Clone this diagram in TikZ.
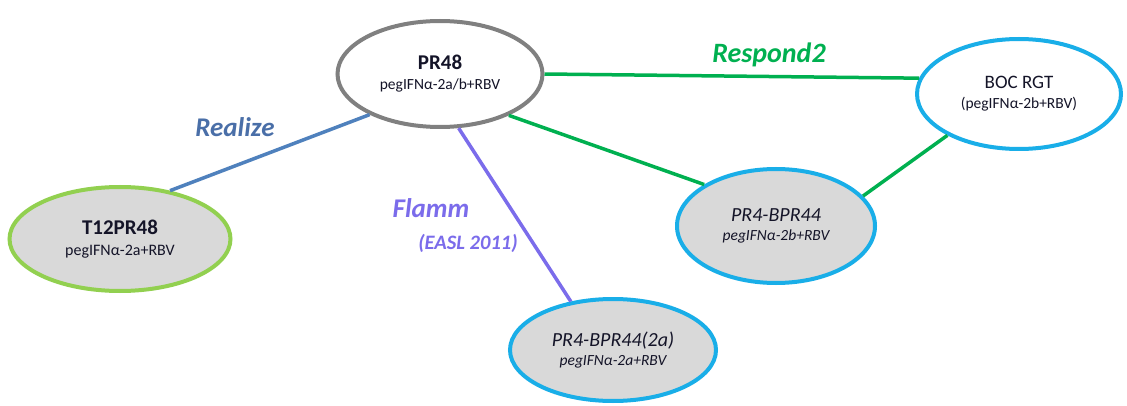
\documentclass[tikz,border=0pt]{standalone}
\usepackage{fontspec}
\setmainfont{Carlito}
\usetikzlibrary{shapes.geometric}
\definecolor{ggray}{HTML}{808080}
\definecolor{sky}{HTML}{19AEE8}
\definecolor{lgreen}{HTML}{92D050}
\definecolor{lfill}{HTML}{D9D9D9}
\definecolor{dgreen}{HTML}{00B050}
\definecolor{rblue}{HTML}{4F81BD}
\definecolor{rtext}{HTML}{4A6FA8}
\definecolor{purp}{HTML}{7B6CEB}
\definecolor{ink}{HTML}{141428}
\tikzset{
  oval/.style={ellipse, line width=4pt, inner sep=0pt, text=ink, align=center,
    font=\fontsize{15.5}{20}\selectfont},
  conn/.style={line width=3.5pt},
  lab/.style={font=\fontsize{27}{30}\selectfont\bfseries\itshape, inner sep=0pt}
}
\begin{document}
\begin{tikzpicture}[x=1pt,y=-1pt]
\useasboundingbox[fill=white] (0,0) rectangle (1127,406);
\node[oval, draw=ggray, fill=white, minimum width=205pt, minimum height=106pt] (pr48) at (440,74)
  {{\fontsize{21}{20}\selectfont\bfseries PR48}\\pegIFNα-2a/b+RBV};
\node[oval, draw=sky, fill=white, minimum width=204pt, minimum height=110pt] (boc) at (1019,94)
  {{\fontsize{19}{20}\selectfont BOC RGT}\\(pegIFNα-2b+RBV)};
\node[oval, draw=lgreen, fill=lfill, minimum width=221pt, minimum height=104pt, font=\fontsize{16}{21}\selectfont] (t12) at (120,239)
  {{\fontsize{21}{21}\selectfont\bfseries T12PR48}\\pegIFNα-2a+RBV};
\node[oval, draw=sky, fill=lfill, minimum width=198pt, minimum height=114pt, font=\fontsize{15.5}{19}\selectfont\itshape] (bpr) at (776,226)
  {{\fontsize{20}{19}\selectfont PR4-BPR44}\\pegIFNα-2b+RBV};
\node[oval, draw=sky, fill=lfill, minimum width=206pt, minimum height=102pt, font=\fontsize{15.5}{19}\selectfont\itshape] (bpra) at (613,350)
  {{\fontsize{20}{19}\selectfont PR4-BPR44(2a)}\\pegIFNα-2a+RBV};

\draw[conn, rblue] (t12.44) -- (pr48.210);
\draw[conn, purp] (pr48.289) -- (bpra.131);
\draw[conn, dgreen] (pr48.east) -- (boc.171);
\draw[conn, dgreen] (pr48.329) -- (bpr.150);
\draw[conn, dgreen] (boc.210) -- (bpr.19);

\node[lab, text=rtext] (lrealize) at (235,127) {Realize};
\node[lab, text=purp] (lflamm) at (431,208) {Flamm};
\node[lab, text=purp, font=\fontsize{20.5}{22}\selectfont\bfseries\itshape] (leasl) at (468,243) {(EASL 2011)};
\node[lab, text=dgreen, font=\fontsize{28}{30}\selectfont\bfseries\itshape] (lrespond) at (769,55) {Respond2};
\end{tikzpicture}
\end{document}
